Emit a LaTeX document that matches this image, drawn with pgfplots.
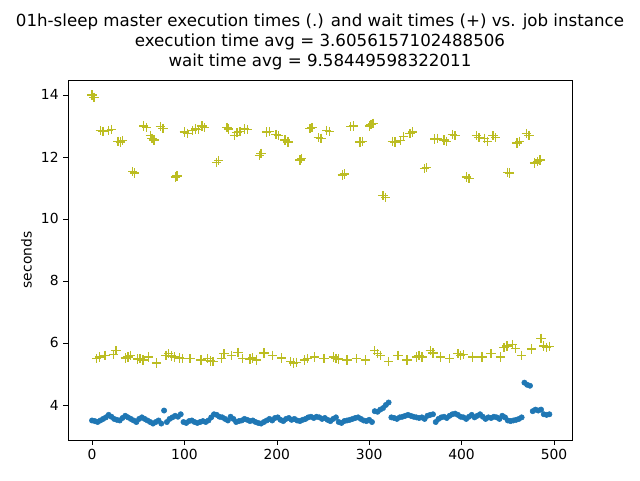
\documentclass[border=0pt]{standalone}
\usepackage{pgfplots}
\pgfplotsset{compat=1.18}
\usepackage{fontspec}
\setmainfont{DejaVu Sans}
\definecolor{mblue}{HTML}{1F77B4}
\definecolor{molive}{HTML}{BCBD22}
\begin{document}
\begin{tikzpicture}
\useasboundingbox (-51pt,-30pt) rectangle (429pt,330pt);
\begin{axis}[
  at={(0,0)}, anchor=south west,
  scale only axis, width=378pt, height=270pt,
  xmin=-26, xmax=519.5, ymin=2.87, ymax=14.48,
  xtick={0,100,200,300,400,500}, ytick={4,6,8,10,12,14},
  tick align=outside, tick style={black, thin}, major tick length=3.5pt,
  xtick pos=bottom, ytick pos=left,
  ticklabel style={font=\fontsize{10.4}{12}\selectfont},
  /pgf/number format/assume math mode=true,
  ylabel={seconds}, ylabel style={font=\fontsize{10.4}{12}\selectfont},
  title style={font=\fontsize{12.5}{15}\selectfont, align=center, yshift=-2pt},
  title={01h-sleep master execution times (.) and wait times (+) vs. job instance\\execution time avg = 3.6056157102488506\\wait time avg = 9.58449598322011},
]
\addplot[only marks, mark=*, mark size=2pt, color=mblue, mark options={draw=mblue, fill=mblue}] coordinates {
(0,3.5)(3,3.48)(6,3.45)(9,3.5)(12,3.55)(15,3.6)(18,3.68)(21,3.62)(24,3.55)(27,3.52)(30,3.5)(33,3.58)(36,3.65)(39,3.6)(42,3.55)(45,3.5)(48,3.45)(51,3.55)(54,3.6)(57,3.55)(60,3.5)(63,3.45)(66,3.4)(69,3.45)(72,3.5)(75,3.4)(78,3.82)(81,3.45)(84,3.55)(87,3.6)(90,3.65)(93,3.62)(96,3.7)(99,3.45)(102,3.42)(105,3.48)(108,3.5)(111,3.45)(114,3.42)(117,3.45)(120,3.48)(123,3.45)(126,3.5)(129,3.6)(132,3.7)(135,3.68)(138,3.62)(141,3.6)(144,3.55)(147,3.5)(150,3.62)(153,3.55)(156,3.45)(159,3.48)(162,3.5)(165,3.55)(168,3.52)(171,3.48)(174,3.5)(177,3.45)(180,3.42)(183,3.4)(186,3.45)(189,3.5)(192,3.55)(195,3.5)(198,3.58)(201,3.6)(204,3.52)(207,3.48)(210,3.55)(213,3.58)(216,3.52)(219,3.55)(222,3.5)(225,3.48)(228,3.52)(231,3.55)(234,3.6)(237,3.62)(240,3.58)(243,3.62)(246,3.6)(249,3.55)(252,3.58)(255,3.52)(258,3.48)(261,3.55)(264,3.6)(267,3.45)(270,3.42)(273,3.48)(276,3.5)(279,3.52)(282,3.55)(285,3.58)(288,3.6)(291,3.55)(294,3.5)(297,3.48)(300,3.52)(303,3.45)(306,3.8)(309,3.78)(312,3.85)(315,3.9)(318,4.0)(321,4.08)(324,3.6)(327,3.58)(330,3.55)(333,3.6)(336,3.62)(339,3.65)(342,3.68)(345,3.65)(348,3.62)(351,3.6)(354,3.58)(357,3.6)(360,3.55)(363,3.65)(366,3.68)(369,3.7)(372,3.45)(375,3.55)(378,3.6)(381,3.62)(384,3.58)(387,3.65)(390,3.7)(393,3.72)(396,3.68)(399,3.62)(402,3.6)(405,3.55)(408,3.62)(411,3.68)(414,3.6)(417,3.65)(420,3.7)(423,3.62)(426,3.55)(429,3.6)(432,3.58)(435,3.62)(438,3.6)(441,3.55)(444,3.65)(447,3.6)(450,3.5)(453,3.48)(456,3.5)(459,3.52)(462,3.55)(465,3.6)(468,4.72)(471,4.65)(474,4.62)(477,3.8)(480,3.85)(483,3.82)(486,3.85)(489,3.7)(492,3.68)(495,3.7)
};
\addplot[only marks, mark=+, mark size=3.5pt, color=molive, mark options={line width=1pt}] coordinates {
(0,14.0)(2,13.92)(9,12.85)(12,12.82)(18,12.85)(21,12.88)(28,12.5)(31,12.48)(33,12.52)(44,11.52)(46,11.48)(56,13.0)(59,12.95)(63,12.7)(65,12.6)(67,12.55)(74,12.98)(77,12.92)(90,11.35)(92,11.38)(100,12.8)(103,12.76)(109,12.85)(112,12.9)(115,12.88)(119,13.0)(122,12.95)(135,11.82)(137,11.88)(146,12.95)(148,12.9)(154,12.7)(157,12.78)(160,12.82)(165,12.9)(168,12.88)(181,12.05)(183,12.12)(189,12.8)(192,12.82)(199,12.72)(202,12.68)(209,12.55)(212,12.48)(225,11.9)(227,11.95)(236,12.92)(238,12.95)(245,12.62)(248,12.6)(254,12.85)(257,12.82)(271,11.42)(273,11.45)(280,12.98)(283,13.0)(290,12.48)(293,12.5)(300,13.0)(302,13.05)(304,13.08)(315,10.75)(318,10.7)(325,12.5)(328,12.48)(334,12.52)(337,12.65)(344,12.75)(347,12.8)(360,11.62)(362,11.65)(371,12.58)(374,12.6)(381,12.55)(384,12.5)(390,12.72)(393,12.68)(405,11.35)(408,11.3)(416,12.68)(419,12.62)(425,12.6)(428,12.5)(434,12.68)(437,12.62)(450,11.5)(452,11.48)(460,12.45)(463,12.5)(470,12.75)(473,12.7)(479,11.8)(482,11.85)(485,11.9)
(5,5.5)(8,5.55)(14,5.6)(23,5.62)(26,5.75)(36,5.52)(39,5.55)(42,5.6)(49,5.48)(52,5.5)(55,5.45)(61,5.55)(70,5.35)(80,5.6)(83,5.65)(86,5.58)(89,5.55)(95,5.52)(98,5.5)(106,5.5)(118,5.45)(125,5.5)(128,5.42)(131,5.4)(140,5.5)(143,5.65)(151,5.6)(158,5.7)(163,5.5)(171,5.48)(174,5.52)(178,5.45)(186,5.68)(195,5.6)(205,5.52)(215,5.4)(218,5.35)(221,5.38)(230,5.45)(233,5.5)(241,5.55)(251,5.5)(261,5.55)(264,5.5)(267,5.48)(276,5.45)(286,5.5)(296,5.45)(306,5.75)(309,5.65)(312,5.6)(321,5.4)(331,5.6)(341,5.45)(351,5.55)(354,5.6)(357,5.55)(366,5.75)(369,5.68)(377,5.55)(387,5.5)(396,5.65)(399,5.6)(402,5.62)(412,5.55)(422,5.55)(432,5.65)(442,5.55)(446,5.85)(449,5.9)(455,5.95)(458,5.82)(465,5.6)(476,5.8)(486,6.15)(489,5.9)(492,5.85)(495,5.88)
};
\end{axis}
\end{tikzpicture}
\end{document}
